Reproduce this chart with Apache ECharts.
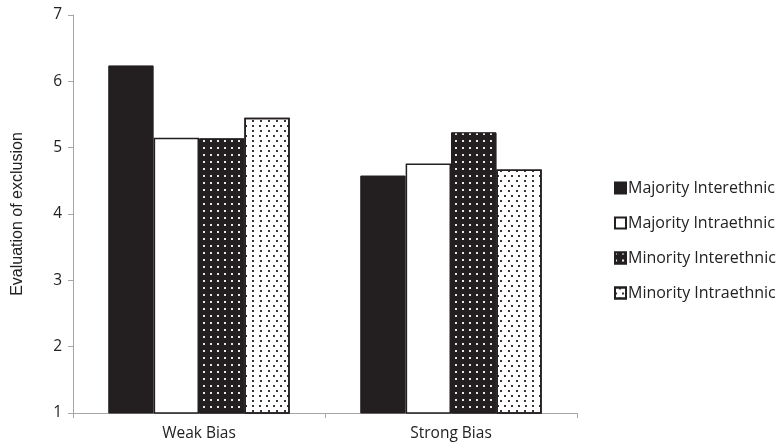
<!DOCTYPE html>
<html><head><meta charset="utf-8">
<script src="https://cdn.jsdelivr.net/npm/echarts@6/dist/echarts.min.js"></script>
<style>html,body{margin:0;padding:0;background:#fff}#c{width:778px;height:448px}</style>
</head><body><div id="c"></div>
<script>
const categories = ['Weak Bias', 'Strong Bias'];
const seriesNames = ['Majority Interethnic', 'Majority Intraethnic', 'Minority Interethnic', 'Minority Intraethnic'];
const majorityInter = [6.24, 4.58];
const majorityIntra = [5.15, 4.76];
const minorityInter = [5.14, 5.23];
const minorityIntra = [5.45, 4.67];
const yTicks = [1, 2, 3, 4, 5, 6, 7];

const font = '"Open Sans", "Noto Sans", sans-serif';
const dark = '#231f20';
const styles = [
  {color: dark, borderColor: dark, borderWidth: 1},
  {color: '#ffffff', borderColor: dark, borderWidth: 1.5},
  {color: dark, borderColor: dark, borderWidth: 1,
   decal: {symbol: 'rect', symbolSize: 0.9, color: '#ffffff', dashArrayX: [2, 5], dashArrayY: [2, 5], rotation: 0}},
  {color: '#ffffff', borderColor: dark, borderWidth: 1.5,
   decal: {symbol: 'rect', symbolSize: 0.9, color: dark, dashArrayX: [[2, 5], [0, 3.5, 2, 1.5]], dashArrayY: [2, 2.5], rotation: 0}}
];
const data = [majorityInter, majorityIntra, minorityInter, minorityIntra];

const chart = echarts.init(document.getElementById('c'), null, {renderer: 'canvas'});
chart.setOption({
  animation: false,
  aria: {enabled: false},
  grid: {left: 73, top: 15, right: 201, bottom: 35},
  legend: {
    orient: 'vertical', left: 609, top: 175, itemGap: 19,
    itemWidth: 11, itemHeight: 11, icon: 'rect',
    textStyle: {fontFamily: font, fontSize: 16, color: '#222', padding: [0, 0, 0, -3]},
    data: seriesNames
  },
  xAxis: {
    type: 'category', data: categories,
    axisLine: {lineStyle: {color: '#a6a6a6', width: 1}},
    axisTick: {show: true, length: 5, lineStyle: {color: '#a6a6a6'}},
    axisLabel: {fontFamily: font, fontSize: 15.5, color: '#222', margin: 13}
  },
  yAxis: {
    type: 'value', min: yTicks[0], max: yTicks[yTicks.length - 1], interval: 1,
    name: 'Evaluation of exclusion', nameLocation: 'middle', nameGap: 47, nameRotate: 90,
    nameTextStyle: {fontFamily: '"Liberation Sans", Arial, sans-serif', fontSize: 16, color: '#222'},
    axisLine: {show: true, lineStyle: {color: '#a6a6a6'}},
    axisTick: {show: true, length: 5, lineStyle: {color: '#a6a6a6'}},
    splitLine: {show: false},
    axisLabel: {fontFamily: font, fontSize: 15.5, color: '#222', margin: 11}
  },
  series: seriesNames.map((n, i) => ({
    name: n, type: 'bar', data: data[i],
    barGap: '0%', barCategoryGap: '28%',
    itemStyle: styles[i]
  }))
});
</script></body></html>
